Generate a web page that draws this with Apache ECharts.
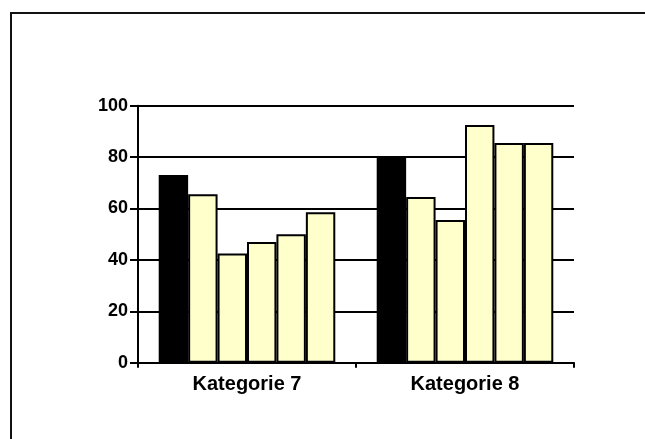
<!DOCTYPE html>
<html>
<head>
<meta charset="utf-8">
<script src="https://cdn.jsdelivr.net/npm/echarts@6/dist/echarts.min.js"></script>
<style>
html,body{margin:0;padding:0;background:#fff;}
#c{width:645px;height:439px;}
</style>
</head>
<body>
<div id="c"></div>
<script>
var categories = ['Kategorie 7', 'Kategorie 8'];
var s1 = [73, 80];
var s2 = [65.5, 64.5];
var s3 = [42.5, 55.5];
var s4 = [47, 92.5];
var s5 = [50, 85.5];
var s6 = [58.5, 85.5];
var yTicks = [0, 20, 40, 60, 80, 100];

var seriesData = [s1, s2, s3, s4, s5, s6];
var fills = ['#000000', '#FFFFCC', '#FFFFCC', '#FFFFCC', '#FFFFCC', '#FFFFCC'];

var chart = echarts.init(document.getElementById('c'));
chart.setOption({
  animation: false,
  backgroundColor: '#ffffff',
  graphic: [{
    type: 'rect',
    shape: {x: 11, y: 13, width: 660, height: 500},
    style: {fill: 'none', stroke: '#111', lineWidth: 2},
    silent: true
  }],
  grid: {left: 138, right: 71, top: 105.7, bottom: 76.3, containLabel: false},
  xAxis: {
    type: 'category',
    data: categories,
    axisLine: {lineStyle: {color: '#000', width: 2}},
    axisTick: {show: true, length: 5, lineStyle: {color: '#000', width: 2}},
    axisLabel: {color: '#000', fontFamily: 'Liberation Sans, Arial, sans-serif', fontWeight: 'bold', fontSize: 20, margin: 12}
  },
  yAxis: {
    type: 'value',
    min: yTicks[0],
    max: yTicks[yTicks.length - 1],
    interval: 20,
    axisLine: {show: true, lineStyle: {color: '#000', width: 2}},
    axisTick: {show: true, length: 8, lineStyle: {color: '#000', width: 2}},
    splitLine: {show: true, lineStyle: {color: '#000', width: 2}},
    axisLabel: {color: '#000', fontFamily: 'Liberation Sans, Arial, sans-serif', fontWeight: 'bold', fontSize: 18, margin: 10}
  },
  series: seriesData.map(function (d, i) {
    return {
      type: 'bar',
      data: d,
      barGap: '0%',
      barCategoryGap: '19%',
      itemStyle: {color: fills[i], borderColor: '#000', borderWidth: 2}
    };
  })
});
</script>
</body>
</html>
